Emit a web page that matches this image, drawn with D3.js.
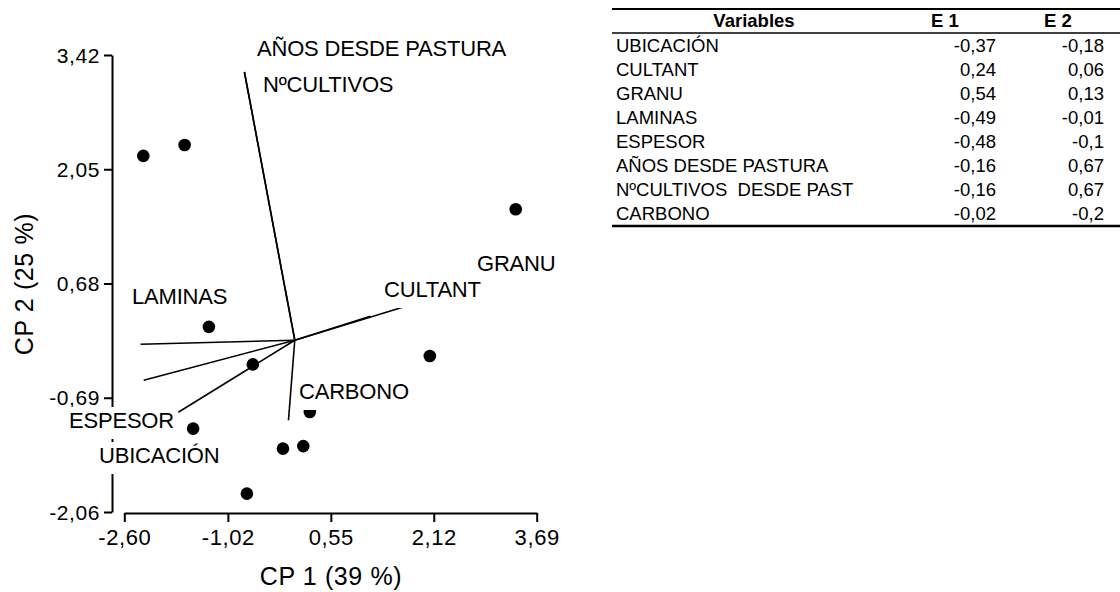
<!DOCTYPE html>
<html>
<head>
<meta charset="utf-8">
<script src="https://cdn.jsdelivr.net/npm/d3@7"></script>
<style>
  body { margin: 0; background: #fff; }
  svg { display: block; font-family: "Liberation Sans", Arial, sans-serif; }
</style>
</head>
<body>
<svg id="chart" width="1120" height="592"></svg>
<script>
// loadings table
const variables = ['UBICACIÓN', 'CULTANT', 'GRANU', 'LAMINAS', 'ESPESOR',
    'AÑOS DESDE PASTURA', 'NºCULTIVOS  DESDE PAST', 'CARBONO'];
const e1 = [-0.37, 0.24, 0.54, -0.49, -0.48, -0.16, -0.16, -0.02];
const e2 = [-0.18, 0.06, 0.13, -0.01, -0.1, 0.67, 0.67, -0.2];
const vectorLabels = ['UBICACIÓN', 'CULTANT', 'GRANU', 'LAMINAS', 'ESPESOR',
    'AÑOS DESDE PASTURA', 'NºCULTIVOS', 'CARBONO'];

// observations (CP1, CP2)
const obsX = [-2.31, -1.68, 3.37, -1.31, -0.64, 2.06, 0.23, -1.55, -0.18, 0.13, -0.73];
const obsY = [2.21, 2.34, 1.57, 0.16, -0.29, -0.19, -0.86, -1.06, -1.30, -1.27, -1.84];

const xTicks = [-2.60, -1.02, 0.55, 2.12, 3.69];
const yTicks = [-2.06, -0.69, 0.68, 2.05, 3.42];

const vecScale = 4.8;
// label anchors (left, baseline) in px
const labelPos = [[99, 463], [384, 297], [477, 271], [132, 304], [69, 428],
    [257, 56], [263, 92], [299, 399]];

const comma = v => v.toFixed(2).replace('.', ',');
const commaShort = v => String(v).replace('.', ',');

const svg = d3.select('#chart');

const x = d3.scaleLinear().domain([-2.60, 3.69]).range([124.3, 536.7]);
const y = d3.scaleLinear().domain([-2.06, 3.42]).range([512, 55]);

const plot = svg.append('g');

// axes
const yAxis = plot.append('g')
    .attr('transform', 'translate(112,0)')
    .call(d3.axisLeft(y).tickValues(yTicks).tickFormat(comma).tickSize(8).tickSizeOuter(0).tickPadding(4));
yAxis.selectAll('path, line').attr('stroke', '#000').attr('stroke-width', 2);
yAxis.selectAll('text').attr('font-size', 21).attr('fill', '#000')
    .attr('font-family', '"Liberation Sans", Arial, sans-serif')
    .attr('dy', '0.34em').attr('letter-spacing', 0.6);

const xAxis = plot.append('g')
    .attr('transform', 'translate(0,513)')
    .call(d3.axisBottom(x).tickValues(xTicks).tickFormat(comma).tickSize(9).tickSizeOuter(0));
xAxis.selectAll('path, line').attr('stroke', '#000').attr('stroke-width', 2);
xAxis.selectAll('text').attr('font-size', 22).attr('fill', '#000')
    .attr('font-family', '"Liberation Sans", Arial, sans-serif')
    .attr('y', 32).attr('dy', 0).attr('letter-spacing', 0.6);

// axis titles
svg.append('text')
    .attr('x', 331).attr('y', 585)
    .attr('text-anchor', 'middle')
    .attr('font-size', 25).attr('letter-spacing', 0.6)
    .text('CP 1 (39 %)');

svg.append('text')
    .attr('transform', 'translate(33,284) rotate(-90)')
    .attr('text-anchor', 'middle')
    .attr('font-size', 25).attr('letter-spacing', 0.6)
    .text('CP 2 (25 %)');

// vectors
plot.append('g').selectAll('line')
    .data(e1)
    .join('line')
    .attr('x1', x(0)).attr('y1', y(0))
    .attr('x2', d => x(d * vecScale))
    .attr('y2', (d, i) => y(e2[i] * vecScale))
    .attr('stroke', '#000')
    .attr('stroke-width', 1.6);

// observations
plot.append('g').selectAll('circle')
    .data(obsX)
    .join('circle')
    .attr('cx', d => x(d))
    .attr('cy', (d, i) => y(obsY[i]))
    .attr('r', 6.3)
    .attr('fill', '#000');

// vector labels with white boxes
const labels = plot.append('g');
vectorLabels.forEach((t, i) => {
    const g = labels.append('g');
    const bg = g.append('rect').attr('fill', '#fff');
    const txt = g.append('text')
        .attr('x', labelPos[i][0]).attr('y', labelPos[i][1])
        .attr('font-size', 22)
        .attr('letter-spacing', -0.2)
        .text(t);
    const b = txt.node().getBBox();
    bg.attr('x', b.x - 1).attr('width', b.width + 2)
        .attr('y', labelPos[i][1] - 21).attr('height', 32);
});

// table
const table = svg.append('g');
const tLeft = 612, tRight = 1120;
const rowY = d3.scaleLinear().domain([0, 1]).range([51.5, 75.5]);

table.append('line').attr('x1', tLeft).attr('x2', tRight).attr('y1', 9).attr('y2', 9)
    .attr('stroke', '#000').attr('stroke-width', 2);
table.append('line').attr('x1', tLeft).attr('x2', tRight).attr('y1', 33).attr('y2', 33)
    .attr('stroke', '#000').attr('stroke-width', 1.6);
table.append('line').attr('x1', tLeft).attr('x2', tRight).attr('y1', 226).attr('y2', 226)
    .attr('stroke', '#000').attr('stroke-width', 2.5);

const header = [['Variables', 754], ['E 1', 945], ['E 2', 1058]];
table.selectAll('text.head')
    .data(header)
    .join('text')
    .attr('class', 'head')
    .attr('x', d => d[1]).attr('y', 27)
    .attr('text-anchor', 'middle')
    .attr('font-size', 18.5).attr('font-weight', 'bold')
    .text(d => d[0]);

table.selectAll('text.var')
    .data(variables)
    .join('text')
    .attr('class', 'var')
    .attr('x', 616).attr('y', (d, i) => rowY(i))
    .attr('font-size', 18.5)
    .style('white-space', 'pre')
    .text(d => d);

table.selectAll('text.e1')
    .data(e1)
    .join('text')
    .attr('class', 'e1')
    .attr('x', 996).attr('y', (d, i) => rowY(i))
    .attr('text-anchor', 'end')
    .attr('font-size', 18.5)
    .text(commaShort);

table.selectAll('text.e2')
    .data(e2)
    .join('text')
    .attr('class', 'e2')
    .attr('x', 1104).attr('y', (d, i) => rowY(i))
    .attr('text-anchor', 'end')
    .attr('font-size', 18.5)
    .text(commaShort);
</script>
</body>
</html>
